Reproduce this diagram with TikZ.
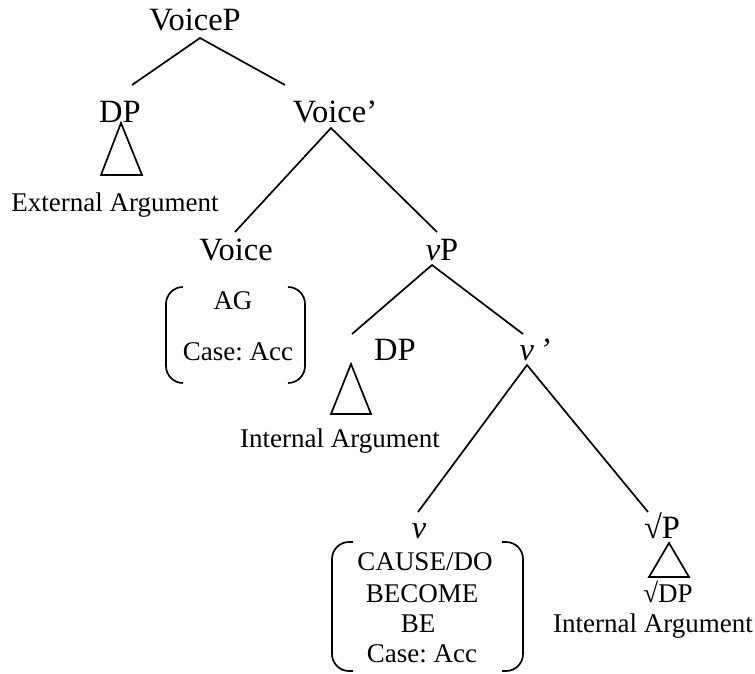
\documentclass[tikz,border=0pt]{standalone}
\usepackage{fontspec}
\setmainfont{Liberation Serif}
\frenchspacing
\begin{document}
\begin{tikzpicture}[x=1pt,y=-1pt,
  every path/.style={line width=1.7pt},
  cat/.style={inner sep=0pt,anchor=base,font=\fontsize{32.5}{32.5}\selectfont},
  lab/.style={inner sep=0pt,anchor=base,font=\fontsize{27}{27}\selectfont},
  branch/.style={line width=1.7pt},
  brack/.style={line width=1.7pt,rounded corners=17pt}]
\useasboundingbox (0,0) rectangle (755,673);

% category labels
\node[cat] (voicep) at (195,30) {VoiceP};
\node[cat] (dp1) at (120,122) {DP};
\node[cat] (voicebar) at (335,122) {Voice’};
\node[cat] (voice) at (236,260) {Voice};
\node[cat] (vp) at (442,260) {\textit{v}P};
\node[cat] (dp2) at (395,360) {DP};
\node[cat] (vbar) at (535,360) {\textit{v\,’}};
\node[cat] (v) at (419,538) {\textit{v}};
\node[cat] (rootp) at (662,538) {√P};

% smaller annotations
\node[lab] (extarg) at (115,211) {External Argument};
\node[lab] (ag) at (233,309) {AG};
\node[lab] (case1) at (238,360) {Case: Acc};
\node[lab] (intarg1) at (340,447) {Internal Argument};
\node[lab] (cause) at (425,570) {CAUSE/DO};
\node[lab] (become) at (422,602) {BECOME};
\node[lab] (be) at (418,632) {BE};
\node[lab] (case2) at (422,662) {Case: Acc};
\node[lab] (rootdp) at (668,602) {√DP};
\node[lab] (intarg2) at (653,632) {Internal Argument};

% branch end points
\coordinate (voicep-b) at (200,38);
\coordinate (dp1-t) at (132,85);
\coordinate (voicebar-t) at (285,85);
\coordinate (voicebar-b) at (331,128);
\coordinate (voice-t) at (235,232);
\coordinate (vp-t) at (437,232);
\coordinate (vp-b) at (432,265);
\coordinate (dp2-t) at (352,334);
\coordinate (vbar-t) at (523,334);
\coordinate (vbar-b) at (527,365);
\coordinate (v-t) at (418,512);
\coordinate (rootp-t) at (648,512);

\draw[branch] (dp1-t) -- (voicep-b) -- (voicebar-t);
\draw[branch] (voice-t) -- (voicebar-b) -- (vp-t);
\draw[branch] (dp2-t) -- (vp-b) -- (vbar-t);
\draw[branch] (v-t) -- (vbar-b) -- (rootp-t);

% triangles for unanalysed phrases
\draw[line join=miter] (121,123) -- (101,175) -- (142,175) -- cycle;
\draw[line join=miter] (351,364) -- (331,414) -- (371,414) -- cycle;
\draw[line join=miter] (669,543) -- (649,577) -- (689,577) -- cycle;

% feature brackets
\draw[brack] (183,287) -- (166,287) -- (166,383) -- (183,383);
\draw[brack] (288,287) -- (305,287) -- (305,383) -- (288,383);
\draw[brack] (353,542) -- (332,542) -- (332,671) -- (353,671);
\draw[brack] (502,542) -- (523,542) -- (523,671) -- (502,671);
\end{tikzpicture}
\end{document}
